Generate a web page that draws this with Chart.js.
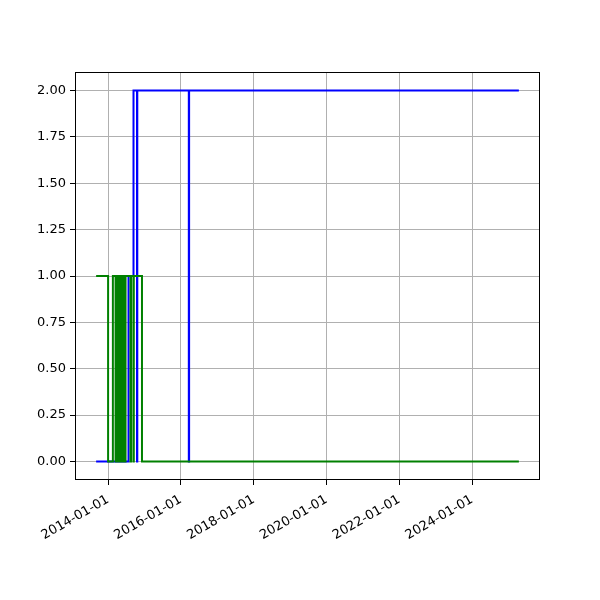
<!DOCTYPE html>
<html>
<head>
<meta charset="utf-8">
<script src="https://cdn.jsdelivr.net/npm/chart.js@4.4.1/dist/chart.umd.min.js"></script>
<style>
  body { margin: 0; background: #fff; }
  canvas { display: block; }
</style>
</head>
<body>
<canvas id="chart" width="600" height="600"></canvas>
<script>
// blue series (steps)
const blueDates = ['2013-09-03', '2014-07-25', '2014-09-13', '2014-10-18', '2014-10-21',
  '2016-03-21', '2016-03-24', '2025-04-15'];
const blueValues = [0, 1, 2, 0, 2, 0, 2, 2];

// green series (steps)
const greenDates = ['2013-09-03', '2014-01-01', '2014-02-18', '2014-03-17',
  '2014-03-27', '2014-04-02', '2014-04-09', '2014-04-15', '2014-04-22', '2014-04-28',
  '2014-05-05', '2014-05-11', '2014-05-18', '2014-05-24', '2014-05-31', '2014-06-06',
  '2014-06-12', '2014-06-18', '2014-06-25',
  '2014-08-14', '2014-08-19', '2014-09-12', '2014-09-16', '2014-12-07', '2025-04-15'];
const greenValues = [1, 0, 1, 0,
  1, 0, 1, 0, 1, 0,
  1, 0, 1, 0, 1, 0,
  1, 0, 1,
  0, 1, 0, 1, 0, 0];

const xTickLabels = ['2014-01-01', '2016-01-01', '2018-01-01', '2020-01-01', '2022-01-01', '2024-01-01'];
const yTickValues = [0, 0.25, 0.5, 0.75, 1, 1.25, 1.5, 1.75, 2];

const ms = s => Date.parse(s + 'T00:00:00Z');
const toPoints = (dates, vals) => dates.map((d, i) => ({ x: ms(d), y: vals[i] }));

// matplotlib-like 5% margins
const allX = blueDates.concat(greenDates).map(ms);
const xLo = Math.min(...allX), xHi = Math.max(...allX);
const xPad = (xHi - xLo) * 0.05;

function fmtDate(v) {
  const d = new Date(v);
  const p = n => String(n).padStart(2, '0');
  return d.getUTCFullYear() + '-' + p(d.getUTCMonth() + 1) + '-' + p(d.getUTCDate());
}

const frame = {
  id: 'frame',
  afterDatasetsDraw(chart) {
    const a = chart.chartArea, c = chart.ctx;
    c.save();
    c.strokeStyle = '#000';
    c.lineWidth = 1;
    c.strokeRect(Math.round(a.left) + 0.5, Math.round(a.top) + 0.5,
      Math.round(a.right - a.left) - 1, Math.round(a.bottom - a.top) - 1);
    c.restore();
  }
};

new Chart(document.getElementById('chart'), {
  type: 'line',
  data: {
    datasets: [{
      label: 'green',
      data: toPoints(greenDates, greenValues),
      borderColor: '#008000',
      borderWidth: 2,
      stepped: 'before',
      pointRadius: 0,
      fill: false,
      order: 0
    }, {
      label: 'blue',
      data: toPoints(blueDates, blueValues),
      borderColor: '#0000ff',
      borderWidth: 2,
      stepped: 'before',
      pointRadius: 0,
      fill: false,
      order: 1
    }]
  },
  options: {
    responsive: false,
    animation: false,
    devicePixelRatio: 1,
    layout: { padding: { top: 72, right: 60, left: 0, bottom: 0 } },
    plugins: { legend: { display: false }, tooltip: { enabled: false } },
    scales: {
      x: {
        type: 'linear',
        min: xLo - xPad,
        max: xHi + xPad,
        afterBuildTicks: s => { s.ticks = xTickLabels.map(t => ({ value: ms(t) })); },
        afterFit: s => { s.height = 120; },
        grid: { color: '#b0b0b0', lineWidth: 1, tickColor: '#000', tickLength: 5 },
        border: { display: false },
        ticks: {
          color: '#000',
          font: { family: 'DejaVu Sans', size: 13 },
          maxRotation: 30,
          minRotation: 30,
          padding: 7,
          callback: v => fmtDate(v)
        }
      },
      y: {
        min: -0.1,
        max: 2.1,
        afterBuildTicks: s => { s.ticks = yTickValues.map(v => ({ value: v })); },
        afterFit: s => { s.width = 75; },
        grid: { color: '#b0b0b0', lineWidth: 1, tickColor: '#000', tickLength: 5 },
        border: { display: false },
        ticks: {
          color: '#000',
          font: { family: 'DejaVu Sans', size: 13 },
          padding: 4,
          callback: v => v.toFixed(2)
        }
      }
    }
  },
  plugins: [frame]
});
</script>
</body>
</html>
